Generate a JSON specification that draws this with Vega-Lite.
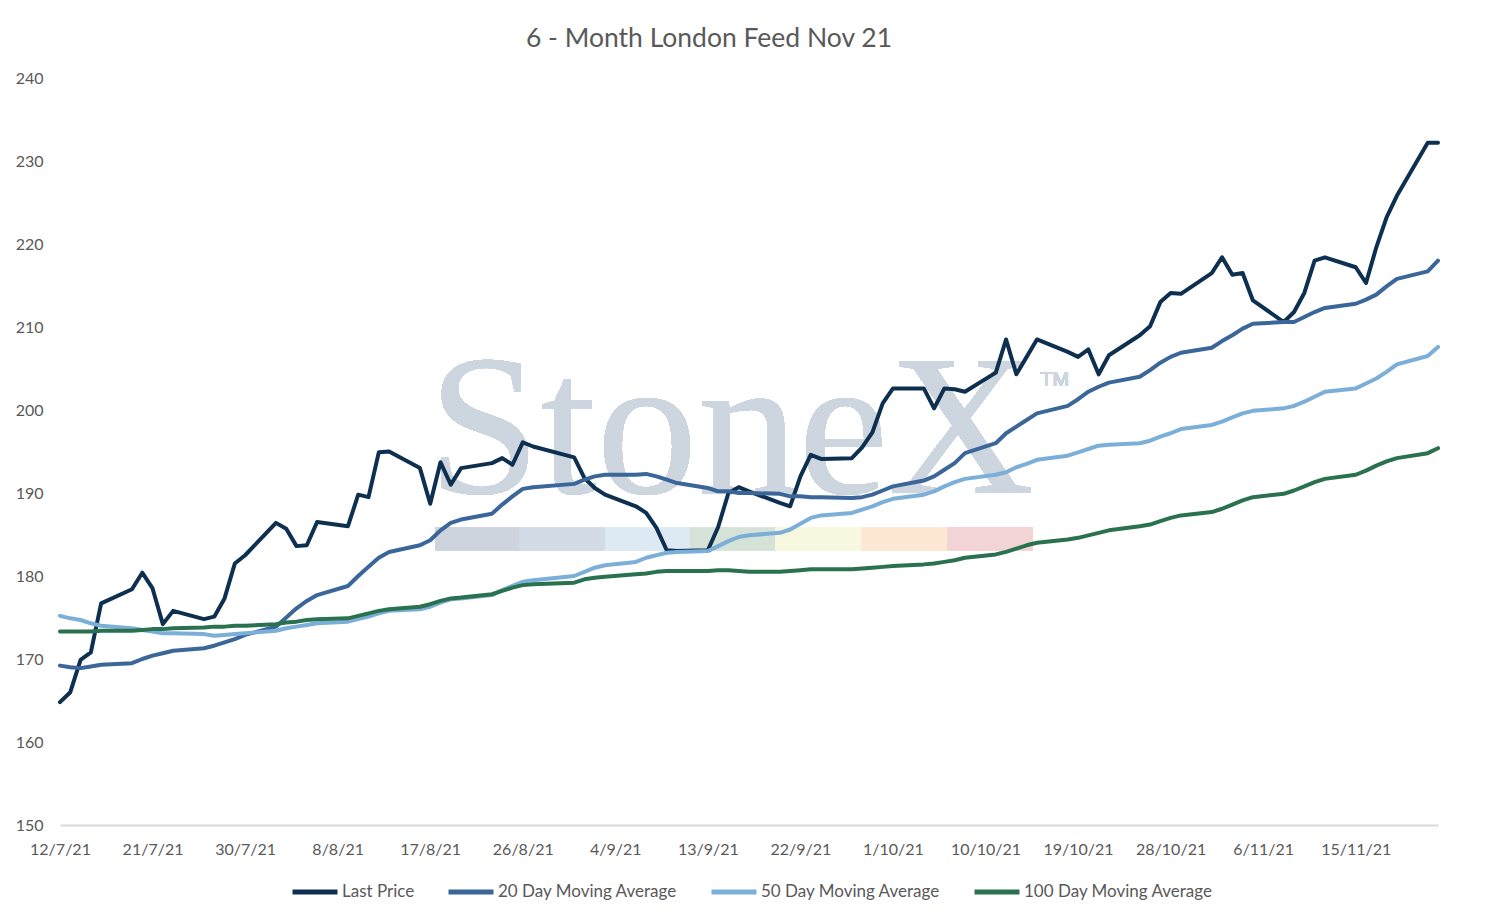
{
  "$schema": "https://vega.github.io/schema/vega-lite/v6.json",
  "autosize": "none",
  "width": 1378,
  "height": 747,
  "padding": {"left": 60, "top": 78, "right": 60, "bottom": 97},
  "background": "white",
  "title": {
    "text": "6 - Month London Feed Nov 21",
    "font": "Lato", "fontSize": 26.5, "fontWeight": "normal", "color": "#595959",
    "offset": 18, "dx": -40
  },
  "data": {
    "values": [
      {"d": "2021-07-12", "lp": 164.8, "m20": 169.2, "m50": 175.2, "m100": 173.3},
      {"d": "2021-07-13", "lp": 166.0, "m20": 169.0, "m50": 174.9, "m100": 173.3},
      {"d": "2021-07-14", "lp": 169.9, "m20": 168.9, "m50": 174.7, "m100": 173.3},
      {"d": "2021-07-15", "lp": 170.8, "m20": 169.1, "m50": 174.3, "m100": 173.3},
      {"d": "2021-07-16", "lp": 176.7, "m20": 169.3, "m50": 174.0, "m100": 173.4},
      {"d": "2021-07-19", "lp": 178.4, "m20": 169.5, "m50": 173.7, "m100": 173.4},
      {"d": "2021-07-20", "lp": 180.4, "m20": 170.0, "m50": 173.5, "m100": 173.5},
      {"d": "2021-07-21", "lp": 178.5, "m20": 170.4, "m50": 173.3, "m100": 173.6},
      {"d": "2021-07-22", "lp": 174.2, "m20": 170.7, "m50": 173.1, "m100": 173.6},
      {"d": "2021-07-23", "lp": 175.8, "m20": 171.0, "m50": 173.1, "m100": 173.7},
      {"d": "2021-07-26", "lp": 174.8, "m20": 171.3, "m50": 173.0, "m100": 173.8},
      {"d": "2021-07-27", "lp": 175.1, "m20": 171.6, "m50": 172.8, "m100": 173.9},
      {"d": "2021-07-28", "lp": 177.3, "m20": 172.0, "m50": 172.9, "m100": 173.9},
      {"d": "2021-07-29", "lp": 181.5, "m20": 172.4, "m50": 173.0, "m100": 174.0},
      {"d": "2021-07-30", "lp": 182.5, "m20": 172.9, "m50": 173.1, "m100": 174.0},
      {"d": "2021-08-02", "lp": 186.4, "m20": 173.9, "m50": 173.4, "m100": 174.2},
      {"d": "2021-08-03", "lp": 185.7, "m20": 175.0, "m50": 173.7, "m100": 174.4},
      {"d": "2021-08-04", "lp": 183.6, "m20": 176.1, "m50": 173.9, "m100": 174.5},
      {"d": "2021-08-05", "lp": 183.7, "m20": 177.0, "m50": 174.1, "m100": 174.7},
      {"d": "2021-08-06", "lp": 186.5, "m20": 177.7, "m50": 174.3, "m100": 174.8},
      {"d": "2021-08-09", "lp": 186.0, "m20": 178.8, "m50": 174.5, "m100": 174.9},
      {"d": "2021-08-10", "lp": 189.8, "m20": 180.0, "m50": 174.8, "m100": 175.2},
      {"d": "2021-08-11", "lp": 189.5, "m20": 181.1, "m50": 175.1, "m100": 175.5},
      {"d": "2021-08-12", "lp": 194.9, "m20": 182.2, "m50": 175.5, "m100": 175.8},
      {"d": "2021-08-13", "lp": 195.0, "m20": 182.9, "m50": 175.8, "m100": 176.0},
      {"d": "2021-08-16", "lp": 193.0, "m20": 183.7, "m50": 176.0, "m100": 176.3},
      {"d": "2021-08-17", "lp": 188.7, "m20": 184.3, "m50": 176.3, "m100": 176.6},
      {"d": "2021-08-18", "lp": 193.7, "m20": 185.5, "m50": 176.8, "m100": 177.0},
      {"d": "2021-08-19", "lp": 191.0, "m20": 186.4, "m50": 177.2, "m100": 177.3},
      {"d": "2021-08-20", "lp": 193.0, "m20": 186.8, "m50": 177.3, "m100": 177.4},
      {"d": "2021-08-23", "lp": 193.6, "m20": 187.5, "m50": 177.7, "m100": 177.8},
      {"d": "2021-08-24", "lp": 194.2, "m20": 188.6, "m50": 178.3, "m100": 178.2},
      {"d": "2021-08-25", "lp": 193.4, "m20": 189.6, "m50": 178.8, "m100": 178.6},
      {"d": "2021-08-26", "lp": 196.1, "m20": 190.5, "m50": 179.3, "m100": 178.9},
      {"d": "2021-08-27", "lp": 195.6, "m20": 190.7, "m50": 179.5, "m100": 179.0},
      {"d": "2021-08-31", "lp": 194.3, "m20": 191.1, "m50": 180.0, "m100": 179.2},
      {"d": "2021-09-01", "lp": 191.8, "m20": 191.6, "m50": 180.5, "m100": 179.6},
      {"d": "2021-09-02", "lp": 190.6, "m20": 192.0, "m50": 181.0, "m100": 179.8},
      {"d": "2021-09-03", "lp": 189.8, "m20": 192.2, "m50": 181.3, "m100": 179.9},
      {"d": "2021-09-06", "lp": 188.4, "m20": 192.2, "m50": 181.7, "m100": 180.2},
      {"d": "2021-09-07", "lp": 187.6, "m20": 192.3, "m50": 182.2, "m100": 180.3},
      {"d": "2021-09-08", "lp": 185.8, "m20": 192.0, "m50": 182.5, "m100": 180.5},
      {"d": "2021-09-09", "lp": 183.1, "m20": 191.6, "m50": 182.8, "m100": 180.6},
      {"d": "2021-09-10", "lp": 183.0, "m20": 191.2, "m50": 182.9, "m100": 180.6},
      {"d": "2021-09-13", "lp": 183.1, "m20": 190.6, "m50": 183.0, "m100": 180.6},
      {"d": "2021-09-14", "lp": 185.9, "m20": 190.2, "m50": 183.6, "m100": 180.7},
      {"d": "2021-09-15", "lp": 190.0, "m20": 190.2, "m50": 184.2, "m100": 180.7},
      {"d": "2021-09-16", "lp": 190.7, "m20": 190.0, "m50": 184.7, "m100": 180.6},
      {"d": "2021-09-17", "lp": 190.2, "m20": 190.0, "m50": 184.9, "m100": 180.5},
      {"d": "2021-09-20", "lp": 188.8, "m20": 189.9, "m50": 185.2, "m100": 180.5},
      {"d": "2021-09-21", "lp": 188.4, "m20": 189.6, "m50": 185.6, "m100": 180.6},
      {"d": "2021-09-22", "lp": 192.0, "m20": 189.6, "m50": 186.3, "m100": 180.7},
      {"d": "2021-09-23", "lp": 194.6, "m20": 189.5, "m50": 187.0, "m100": 180.8},
      {"d": "2021-09-24", "lp": 194.1, "m20": 189.5, "m50": 187.3, "m100": 180.8},
      {"d": "2021-09-27", "lp": 194.2, "m20": 189.4, "m50": 187.6, "m100": 180.8},
      {"d": "2021-09-28", "lp": 195.5, "m20": 189.5, "m50": 188.0, "m100": 180.9},
      {"d": "2021-09-29", "lp": 197.3, "m20": 189.8, "m50": 188.4, "m100": 181.0},
      {"d": "2021-09-30", "lp": 200.8, "m20": 190.3, "m50": 188.9, "m100": 181.1},
      {"d": "2021-10-01", "lp": 202.6, "m20": 190.8, "m50": 189.3, "m100": 181.2},
      {"d": "2021-10-04", "lp": 202.6, "m20": 191.5, "m50": 189.8, "m100": 181.4},
      {"d": "2021-10-05", "lp": 200.2, "m20": 192.0, "m50": 190.2, "m100": 181.5},
      {"d": "2021-10-06", "lp": 202.6, "m20": 192.8, "m50": 190.8, "m100": 181.7},
      {"d": "2021-10-07", "lp": 202.5, "m20": 193.6, "m50": 191.3, "m100": 181.9},
      {"d": "2021-10-08", "lp": 202.2, "m20": 194.8, "m50": 191.7, "m100": 182.2},
      {"d": "2021-10-11", "lp": 204.5, "m20": 196.0, "m50": 192.2, "m100": 182.6},
      {"d": "2021-10-12", "lp": 208.5, "m20": 197.2, "m50": 192.5, "m100": 182.9},
      {"d": "2021-10-13", "lp": 204.3, "m20": 198.0, "m50": 193.1, "m100": 183.3},
      {"d": "2021-10-14", "lp": 206.4, "m20": 198.8, "m50": 193.5, "m100": 183.7},
      {"d": "2021-10-15", "lp": 208.5, "m20": 199.6, "m50": 194.0, "m100": 184.0},
      {"d": "2021-10-18", "lp": 207.0, "m20": 200.5, "m50": 194.5, "m100": 184.4},
      {"d": "2021-10-19", "lp": 206.4, "m20": 201.3, "m50": 194.9, "m100": 184.6},
      {"d": "2021-10-20", "lp": 207.3, "m20": 202.2, "m50": 195.3, "m100": 184.9},
      {"d": "2021-10-21", "lp": 204.3, "m20": 202.8, "m50": 195.7, "m100": 185.2},
      {"d": "2021-10-22", "lp": 206.6, "m20": 203.3, "m50": 195.8, "m100": 185.5},
      {"d": "2021-10-25", "lp": 209.0, "m20": 204.0, "m50": 196.0, "m100": 186.0},
      {"d": "2021-10-26", "lp": 210.1, "m20": 204.8, "m50": 196.3, "m100": 186.2},
      {"d": "2021-10-27", "lp": 213.0, "m20": 205.7, "m50": 196.8, "m100": 186.6},
      {"d": "2021-10-28", "lp": 214.1, "m20": 206.4, "m50": 197.2, "m100": 187.0},
      {"d": "2021-10-29", "lp": 214.0, "m20": 206.9, "m50": 197.7, "m100": 187.3},
      {"d": "2021-11-01", "lp": 216.5, "m20": 207.5, "m50": 198.2, "m100": 187.7},
      {"d": "2021-11-02", "lp": 218.4, "m20": 208.3, "m50": 198.6, "m100": 188.1},
      {"d": "2021-11-03", "lp": 216.3, "m20": 209.0, "m50": 199.1, "m100": 188.6},
      {"d": "2021-11-04", "lp": 216.5, "m20": 209.8, "m50": 199.6, "m100": 189.1},
      {"d": "2021-11-05", "lp": 213.2, "m20": 210.4, "m50": 199.9, "m100": 189.5},
      {"d": "2021-11-08", "lp": 210.6, "m20": 210.6, "m50": 200.2, "m100": 189.9},
      {"d": "2021-11-09", "lp": 211.8, "m20": 210.6, "m50": 200.5, "m100": 190.3},
      {"d": "2021-11-10", "lp": 214.1, "m20": 211.2, "m50": 201.0, "m100": 190.8},
      {"d": "2021-11-11", "lp": 218.0, "m20": 211.8, "m50": 201.6, "m100": 191.3},
      {"d": "2021-11-12", "lp": 218.4, "m20": 212.3, "m50": 202.2, "m100": 191.7},
      {"d": "2021-11-15", "lp": 217.2, "m20": 212.8, "m50": 202.6, "m100": 192.2},
      {"d": "2021-11-16", "lp": 215.3, "m20": 213.3, "m50": 203.2, "m100": 192.7},
      {"d": "2021-11-17", "lp": 219.6, "m20": 213.9, "m50": 203.8, "m100": 193.3},
      {"d": "2021-11-18", "lp": 223.2, "m20": 214.9, "m50": 204.6, "m100": 193.8},
      {"d": "2021-11-19", "lp": 225.8, "m20": 215.8, "m50": 205.5, "m100": 194.2},
      {"d": "2021-11-22", "lp": 232.2, "m20": 216.7, "m50": 206.5, "m100": 194.8},
      {"d": "2021-11-23", "lp": 232.2, "m20": 218.0, "m50": 207.6, "m100": 195.4}
    ],
    "format": {"parse": {"d": "utc:'%Y-%m-%d'"}}
  },
  "encoding": {
    "x": {
      "field": "d", "type": "temporal",
      "scale": {"type": "utc", "domain": [
        {"year": 2021, "month": 7, "date": 12, "utc": true},
        {"year": 2021, "month": 11, "date": 23, "utc": true}
      ]},
      "axis": {
        "title": null,
        "values": [
          {"year": 2021, "month": 7, "date": 12, "utc": true},
          {"year": 2021, "month": 7, "date": 21, "utc": true},
          {"year": 2021, "month": 7, "date": 30, "utc": true},
          {"year": 2021, "month": 8, "date": 8, "utc": true},
          {"year": 2021, "month": 8, "date": 17, "utc": true},
          {"year": 2021, "month": 8, "date": 26, "utc": true},
          {"year": 2021, "month": 9, "date": 4, "utc": true},
          {"year": 2021, "month": 9, "date": 13, "utc": true},
          {"year": 2021, "month": 9, "date": 22, "utc": true},
          {"year": 2021, "month": 10, "date": 1, "utc": true},
          {"year": 2021, "month": 10, "date": 10, "utc": true},
          {"year": 2021, "month": 10, "date": 19, "utc": true},
          {"year": 2021, "month": 10, "date": 28, "utc": true},
          {"year": 2021, "month": 11, "date": 6, "utc": true},
          {"year": 2021, "month": 11, "date": 15, "utc": true}
        ],
        "labelExpr": "utcFormat(datum.value, '%-d/%-m/%y')",
        "grid": false, "ticks": false,
        "domainColor": "#D9D9D9", "domainWidth": 2,
        "labelPadding": 16, "labelFlush": false, "labelOverlap": false
      }
    },
    "y": {
      "type": "quantitative",
      "scale": {"domain": [150, 240], "nice": false, "zero": false},
      "axis": {
        "title": null, "values": [150, 160, 170, 180, 190, 200, 210, 220, 230, 240],
        "grid": false, "ticks": false, "domain": false, "labelPadding": 17
      }
    }
  },
  "layer": [
    {
      "mark": {"type": "text", "text": "StoneX", "font": "Liberation Serif", "fontSize": 202, "color": "#CDD5DF", "align": "center", "baseline": "alphabetic"},
      "encoding": {
        "x": {"datum": {"year": 2021, "month": 9, "date": 15, "hours": 6, "utc": true}, "type": "temporal"},
        "y": {"datum": 190.0, "type": "quantitative"}
      }
    },
    {
      "mark": {"type": "text", "text": "TM", "font": "Liberation Sans", "fontSize": 20, "color": "#CDD5DF", "align": "left", "baseline": "alphabetic"},
      "encoding": {
        "x": {"datum": {"year": 2021, "month": 10, "date": 15, "hours": 8, "utc": true}, "type": "temporal"},
        "y": {"datum": 202.9, "type": "quantitative"}
      }
    },
    {
      "mark": {"type": "rect", "color": "#CDD4DD"},
      "encoding": {
        "x": {"datum": {"year": 2021, "month": 8, "date": 17, "hours": 12, "utc": true}, "type": "temporal"},
        "x2": {"datum": {"year": 2021, "month": 8, "date": 25, "hours": 17, "utc": true}},
        "y": {"datum": 185.8, "type": "quantitative"}, "y2": {"datum": 183.1}
      }
    },
    {
      "mark": {"type": "rect", "color": "#D3DCE6"},
      "encoding": {
        "x": {"datum": {"year": 2021, "month": 8, "date": 25, "hours": 17, "utc": true}, "type": "temporal"},
        "x2": {"datum": {"year": 2021, "month": 9, "date": 3, "utc": true}},
        "y": {"datum": 185.8, "type": "quantitative"}, "y2": {"datum": 183.1}
      }
    },
    {
      "mark": {"type": "rect", "color": "#DDEAF3"},
      "encoding": {
        "x": {"datum": {"year": 2021, "month": 9, "date": 3, "utc": true}, "type": "temporal"},
        "x2": {"datum": {"year": 2021, "month": 9, "date": 11, "hours": 7, "utc": true}},
        "y": {"datum": 185.8, "type": "quantitative"}, "y2": {"datum": 183.1}
      }
    },
    {
      "mark": {"type": "rect", "color": "#D5E2D8"},
      "encoding": {
        "x": {"datum": {"year": 2021, "month": 9, "date": 11, "hours": 7, "utc": true}, "type": "temporal"},
        "x2": {"datum": {"year": 2021, "month": 9, "date": 19, "hours": 14, "utc": true}},
        "y": {"datum": 185.8, "type": "quantitative"}, "y2": {"datum": 183.1}
      }
    },
    {
      "mark": {"type": "rect", "color": "#F8F7E0"},
      "encoding": {
        "x": {"datum": {"year": 2021, "month": 9, "date": 19, "hours": 14, "utc": true}, "type": "temporal"},
        "x2": {"datum": {"year": 2021, "month": 9, "date": 27, "hours": 22, "utc": true}},
        "y": {"datum": 185.8, "type": "quantitative"}, "y2": {"datum": 183.1}
      }
    },
    {
      "mark": {"type": "rect", "color": "#FCE8D3"},
      "encoding": {
        "x": {"datum": {"year": 2021, "month": 9, "date": 27, "hours": 22, "utc": true}, "type": "temporal"},
        "x2": {"datum": {"year": 2021, "month": 10, "date": 6, "hours": 7, "utc": true}},
        "y": {"datum": 185.8, "type": "quantitative"}, "y2": {"datum": 183.1}
      }
    },
    {
      "mark": {"type": "rect", "color": "#F2D4D6"},
      "encoding": {
        "x": {"datum": {"year": 2021, "month": 10, "date": 6, "hours": 7, "utc": true}, "type": "temporal"},
        "x2": {"datum": {"year": 2021, "month": 10, "date": 14, "hours": 14, "utc": true}},
        "y": {"datum": 185.8, "type": "quantitative"}, "y2": {"datum": 183.1}
      }
    },
    {
      "transform": [{"fold": ["lp", "m20", "m50", "m100"], "as": ["series", "value"]}],
      "mark": {"type": "line", "strokeWidth": 4, "strokeJoin": "round", "strokeCap": "round"},
      "encoding": {
        "y": {"field": "value", "type": "quantitative"},
        "color": {
          "field": "series", "type": "nominal",
          "scale": {"domain": ["lp", "m20", "m50", "m100"], "range": ["#0E3050", "#3A6699", "#7BAFD8", "#2A7150"]},
          "legend": {
            "title": null, "orient": "none", "direction": "horizontal",
            "legendX": 230, "legendY": 789,
            "symbolType": "stroke", "symbolSize": 2025, "symbolStrokeWidth": 5,
            "labelOffset": 2, "columnPadding": 23,
            "labelExpr": "{'lp': 'Last Price', 'm20': '20 Day Moving Average', 'm50': '50 Day Moving Average', 'm100': '100 Day Moving Average'}[datum.label]"
          }
        }
      }
    }
  ],
  "config": {
    "view": {"stroke": null},
    "axis": {"labelFont": "Lato", "labelFontSize": 16, "labelColor": "#595959"},
    "legend": {"labelFont": "Lato", "labelFontSize": 17, "labelColor": "#595959", "labelLimit": 400}
  }
}
